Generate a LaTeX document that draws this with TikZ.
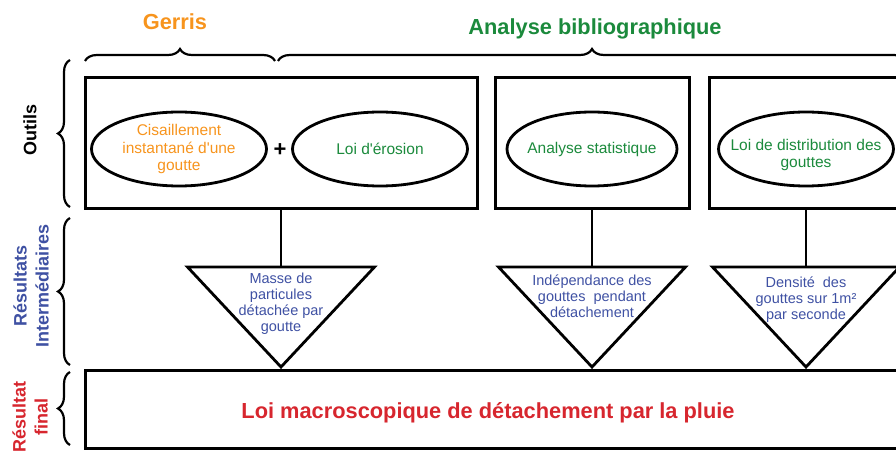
\documentclass[tikz,border=0pt]{standalone}
\usepackage{fontspec}
\setmainfont{Liberation Sans}
\usepackage{xcolor}
\usepackage{tikz}
\usetikzlibrary{shapes.geometric, decorations.pathreplacing, positioning}
\definecolor{gerrisorange}{HTML}{F7941D}
\definecolor{biblgreen}{HTML}{1B8A3C}
\definecolor{resblue}{HTML}{3F51A3}
\definecolor{finalred}{HTML}{D7262E}

\begin{document}
\begin{tikzpicture}[
    x=1pt, y=-1pt,
    toolbox/.style={rectangle, draw=black, line width=3pt, minimum height=131pt, inner sep=0pt},
    tool/.style={ellipse, draw=black, line width=2.8pt, minimum width=175pt, minimum height=74pt, inner sep=0pt},
    tooltext/.style={align=center, font=\fontsize{15.5}{17.5}\selectfont, text=biblgreen},
    restext/.style={align=center, font=\fontsize{14.5}{16}\selectfont, text=resblue},
    tri/.style={draw=black, line width=2.8pt, line join=miter},
    link/.style={draw=black, line width=2.8pt},
    bracket/.style={decorate, decoration={brace, amplitude=12pt}, line width=2.2pt},
    head/.style={font=\fontsize{21.8}{24}\selectfont\bfseries, anchor=base},
    side/.style={font=\fontsize{18}{22}\selectfont\bfseries, align=center, rotate=90}
]
\useasboundingbox (0,0) rectangle (896,454);
% titres et accolades du haut
\node (gerris) [head, text=gerrisorange] at (175,30) {Gerris};
\node (bibl) [head, text=biblgreen] at (595,35) {Analyse bibliographique};
\coordinate (gerrisA) at (85,61);
\coordinate (gerrisB) at (275,61);
\coordinate (biblA) at (278,61);
\coordinate (biblB) at (906,61);
\draw [bracket] (gerrisA) -- (gerrisB);
\draw [bracket] (biblA) -- (biblB);
% accolades de gauche
\node (outils) [side] at (30,130) {Outils};
\node (inter) [side, text=resblue] at (31,286) {Résultats\\Intermédiaires};
\node (finlabel) [side, text=finalred] at (30,417) {Résultat\\final};
\coordinate (outilsA) at (70,207);
\coordinate (outilsB) at (70,60);
\coordinate (interA) at (70,365);
\coordinate (interB) at (70,218);
\coordinate (finA) at (70,445);
\coordinate (finB) at (70,372);
\draw [bracket] (outilsA) -- (outilsB);
\draw [bracket] (interA) -- (interB);
\draw [bracket] (finA) -- (finB);
% outils
\node (box1) [toolbox, minimum width=392pt] at (281,143.5) {};
\node (box2) [toolbox, minimum width=194pt] at (592,143.5) {};
\node (box3) [toolbox, minimum width=194pt] at (806,143.5) {};
\node (shear) [tool, label={[tooltext, text=gerrisorange]center:Cisaillement\\instantané d\textquotesingle une\\goutte}] at (179,149) {};
\node (plus) at (280,150) {\fontsize{22}{22}\selectfont\bfseries +};
\node (erosion) [tool, label={[tooltext]center:Loi d\textquotesingle érosion}] at (380,149) {};
\node (stat) [tool, minimum width=170pt, label={[tooltext]center:Analyse statistique}] at (592,149) {};
\node (distrib) [tool, label={[tooltext, yshift=-6pt]center:Loi de distribution des\\gouttes}] at (806,149) {};
% resultats intermediaires
\coordinate (t1) at (281,267);
\coordinate (t2) at (592,267);
\coordinate (t3) at (806,267);
\draw [link] (box1) -- (t1);
\draw [link] (box2) -- (t2);
\draw [link] (box3) -- (t3);
\draw [tri] (t1) ++(-93.5,0) -- ++(187,0) -- ++(-93.5,100) -- cycle;
\draw [tri] (t2) ++(-93.5,0) -- ++(187,0) -- ++(-93.5,100) -- cycle;
\draw [tri] (t3) ++(-93.5,0) -- ++(187,0) -- ++(-93.5,100) -- cycle;
\node (masse) [restext] at (281,304) {Masse de\\particules\\détachée par\\goutte};
\node (indep) [restext] at (592,296) {Indépendance des\\gouttes~ pendant\\détachement};
\node (dens) [restext] at (806,300) {Densité~ des\\gouttes sur 1m²\\par seconde};
% resultat final
\node (final) [rectangle, draw=black, line width=3pt, minimum width=830pt, minimum height=78pt, inner sep=0pt] at (500,409) {};
\node (loi) [head, text=finalred] at (488,418) {Loi macroscopique de détachement par la pluie};
\end{tikzpicture}
\end{document}
